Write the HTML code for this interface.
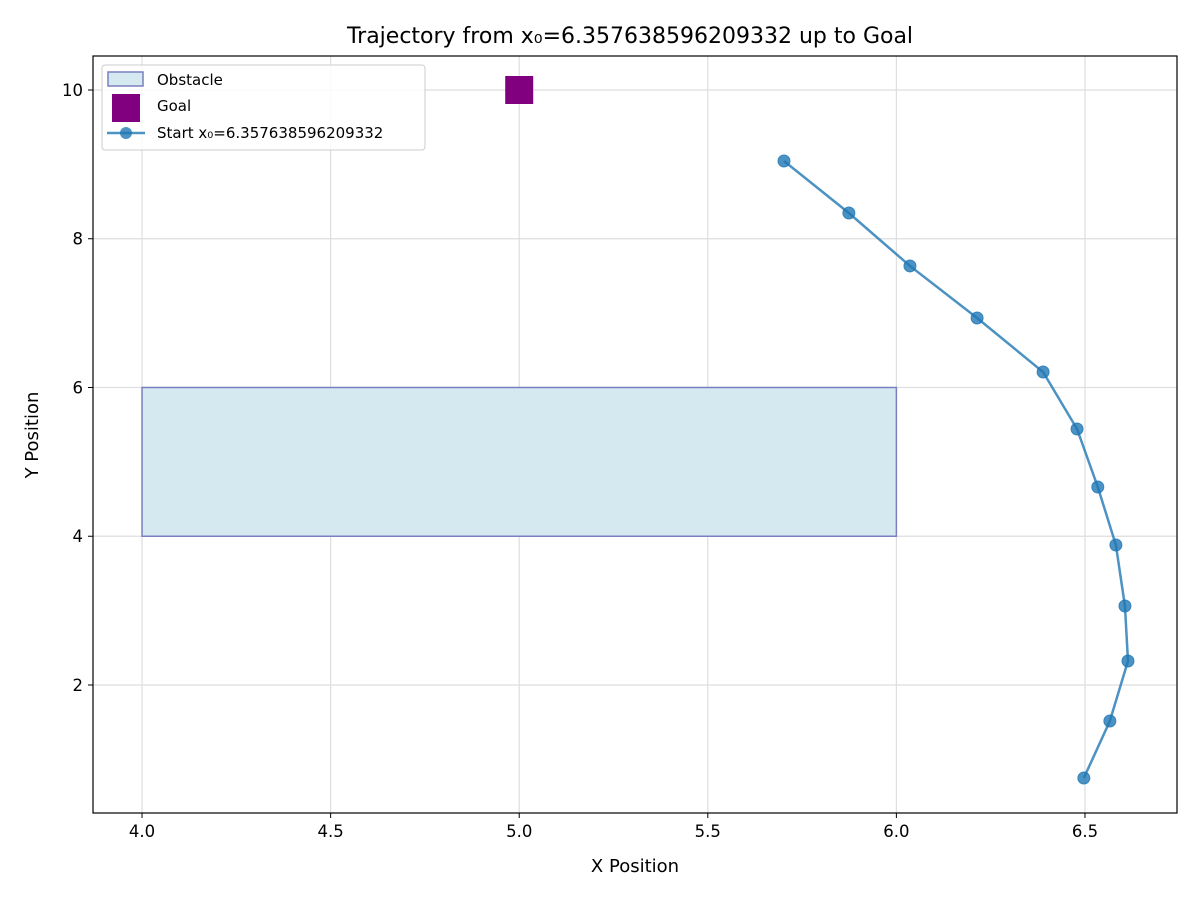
<!DOCTYPE html>
<html><head><meta charset="utf-8"><style>
body{margin:0;background:#fff}
text{font-family:"DejaVu Sans","Liberation Sans",sans-serif;fill:#000}
</style></head><body>
<svg id="chart" width="1200" height="900" xmlns="http://www.w3.org/2000/svg">
<rect width="1200" height="900" fill="#fff"/>
<g id="grid"></g>
<g id="marks"></g>
<g id="axes"></g>
</svg>
<script>
const xs = [5.702,5.874,6.036,6.214,6.389,6.479,6.534,6.582,6.606,6.614,6.566,6.497];
const ys = [9.045,8.346,7.634,6.934,6.208,5.442,4.662,3.882,3.062,2.323,1.516,0.749];
const xTicks = [4.0,4.5,5.0,5.5,6.0,6.5];
const yTicks = [2,4,6,8,10];
const obstacle = [4,4,6,6]; // x0,y0,x1,y1
const goal = [5,10];
const L=93,R=1177,T=56,B=813;
const X0=3.870,X1=6.744,Y0=0.279,Y1=10.457;
const sx=v=>L+(v-X0)/(X1-X0)*(R-L);
const sy=v=>B-(v-Y0)/(Y1-Y0)*(B-T);
const NS='http://www.w3.org/2000/svg';
function mk(parent,tag,attrs,txt){const e=document.createElementNS(NS,tag);for(const k in attrs)e.setAttribute(k,attrs[k]);if(txt!==undefined)e.textContent=txt;parent.appendChild(e);return e;}
const grid=document.getElementById('grid'),marks=document.getElementById('marks'),axes=document.getElementById('axes');
xTicks.forEach(t=>{const g=mk(grid,'line',{x1:sx(t),x2:sx(t),y1:T,y2:B,stroke:'#dedede','stroke-width':1.2});
 const tk=mk(axes,'line',{x1:sx(t),x2:sx(t),y1:B,y2:B+5,stroke:'#000'});
 const l=mk(axes,'text',{x:sx(t),y:B+24,'text-anchor':'middle','font-size':16.5},t.toFixed(1));});
yTicks.forEach(t=>{const g=mk(grid,'line',{x1:L,x2:R,y1:sy(t),y2:sy(t),stroke:'#dedede','stroke-width':1.2});
 const tk=mk(axes,'line',{x1:L-5,x2:L,y1:sy(t),y2:sy(t),stroke:'#000'});
 const l=mk(axes,'text',{x:L-10,y:sy(t)+6,'text-anchor':'end','font-size':16.5},String(t));});
const ob=mk(marks,'rect',{x:sx(obstacle[0]),y:sy(obstacle[3]),width:sx(obstacle[2])-sx(obstacle[0]),height:sy(obstacle[1])-sy(obstacle[3]),fill:'#d4eaf0',stroke:'#7b7fbf','stroke-width':1.5});

const gl=mk(marks,'rect',{x:sx(goal[0])-14,y:sy(goal[1])-14,width:28,height:28,fill:'#800080'});

const pl=mk(marks,'polyline',{points:xs.map((x,i)=>sx(x)+','+sy(ys[i])).join(' '),fill:'none',stroke:'#1f77b4','stroke-opacity':0.8,'stroke-width':2.5});

xs.forEach((x,i)=>{const c=mk(marks,'circle',{cx:sx(x),cy:sy(ys[i]),r:6,fill:'#1f77b4','fill-opacity':0.8,stroke:'#1f77b4','stroke-opacity':0.8});});
const fr=mk(axes,'rect',{x:L,y:T,width:R-L,height:B-T,fill:'none',stroke:'#000','stroke-width':1.2});
</script>
<svg style="position:absolute;left:0;top:0" width="1200" height="900" xmlns="http://www.w3.org/2000/svg">
<text x="630" y="43" text-anchor="middle" font-size="22">Trajectory from x₀=6.357638596209332 up to Goal</text>
<text x="635" y="872" text-anchor="middle" font-size="18">X Position</text>
<text transform="translate(38,435) rotate(-90)" text-anchor="middle" font-size="18">Y Position</text>
<g>
<rect x="102" y="65" width="323" height="85" rx="3" fill="#fff" fill-opacity="0.85" stroke="#ccc"/>
<rect x="108" y="72" width="35" height="14" fill="#d4eaf0" stroke="#7b7fbf" stroke-width="1.5"/>
<text x="157" y="85" font-size="15">Obstacle</text>
<rect x="112" y="94" width="28" height="28" fill="#800080"/>
<text x="157" y="111" font-size="15">Goal</text>
<line x1="107" y1="133" x2="145" y2="133" stroke="#1f77b4" stroke-opacity="0.8" stroke-width="2.5"/>
<circle cx="126" cy="133" r="6" fill="#1f77b4" fill-opacity="0.8"/>
<text x="157" y="138" font-size="15">Start x₀=6.357638596209332</text>
</g>
</svg>
</body></html>
